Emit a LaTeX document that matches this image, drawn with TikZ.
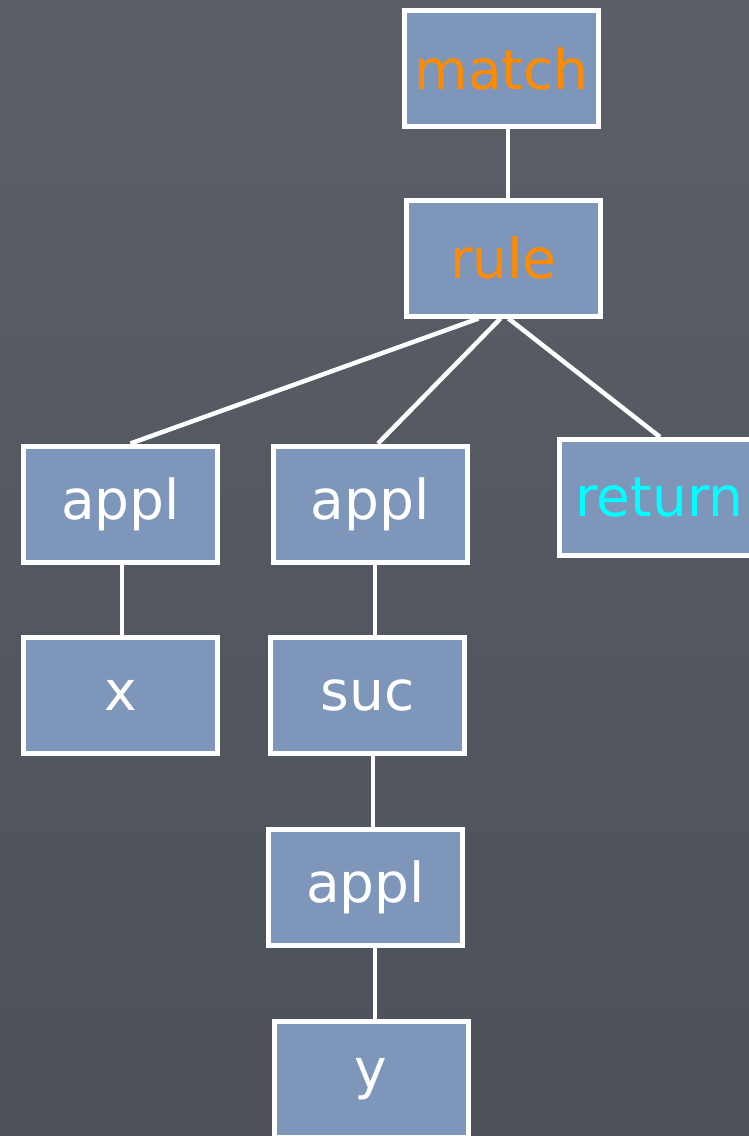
\documentclass[tikz,border=0pt]{standalone}
\usepackage{fontspec}
\setmainfont{DejaVu Sans}
\definecolor{slate}{HTML}{4D5159}
\definecolor{slatelight}{HTML}{5A5F68}
\definecolor{boxblue}{HTML}{7E96B9}
\definecolor{kwOrange}{HTML}{FF8C00}
\definecolor{kwCyan}{HTML}{00FFFF}
\tikzset{
  treebox/.style={draw=white, line width=5pt, fill=boxblue, inner sep=0pt,
    minimum width=194pt, minimum height=116pt, text=white,
    font=\fontsize{55}{66}\selectfont},
  edge/.style={draw=white, line width=4.5pt},
}
\begin{document}
\begin{tikzpicture}[x=1pt,y=-1pt]
  \useasboundingbox (0,0) rectangle (749,1136);
  \clip (0,0) rectangle (749,1136);
  % chalkboard background
  \shade[top color=slatelight, bottom color=slate] (0,0) rectangle (749,1136);

  % syntax tree nodes
  \node[treebox, text=kwOrange] (match) at (501.5,68.5) {match};
  \node[treebox, text=kwOrange] (rule) at (503.5,258) {rule};
  \node[treebox] (applA) at (120.5,504) {appl};
  \node[treebox] (varx) at (120.5,695.5) {x};
  \node[treebox] (applB) at (370,504) {appl};
  \node[treebox, text=kwCyan] (ret) at (656.5,497.5) {\hspace*{6pt}return};
  \node[treebox] (suc) at (367.5,695) {suc};
  \node[treebox] (applC) at (365.5,887) {appl};
  \node[treebox] (vary) at (371,1079) {y};

  % connectors
  \draw[edge] ([xshift=6.5pt]match.south) -- ([xshift=4.5pt]rule.north);
  \draw[edge] ([xshift=-25pt]rule.south) -- ([xshift=10pt]applA.north);
  \draw[edge] ([xshift=-3pt]rule.south) -- ([xshift=8pt]applB.north);
  \draw[edge] ([xshift=5pt]rule.south) -- ([xshift=3.5pt]ret.north);
  \draw[edge] ([xshift=1.5pt]applA.south) -- ([xshift=1.5pt]varx.north);
  \draw[edge] ([xshift=5pt]applB.south) -- ([xshift=7.5pt]suc.north);
  \draw[edge] ([xshift=5.5pt]suc.south) -- ([xshift=7.5pt]applC.north);
  \draw[edge] ([xshift=9.5pt]applC.south) -- ([xshift=4pt]vary.north);
\end{tikzpicture}
\end{document}
